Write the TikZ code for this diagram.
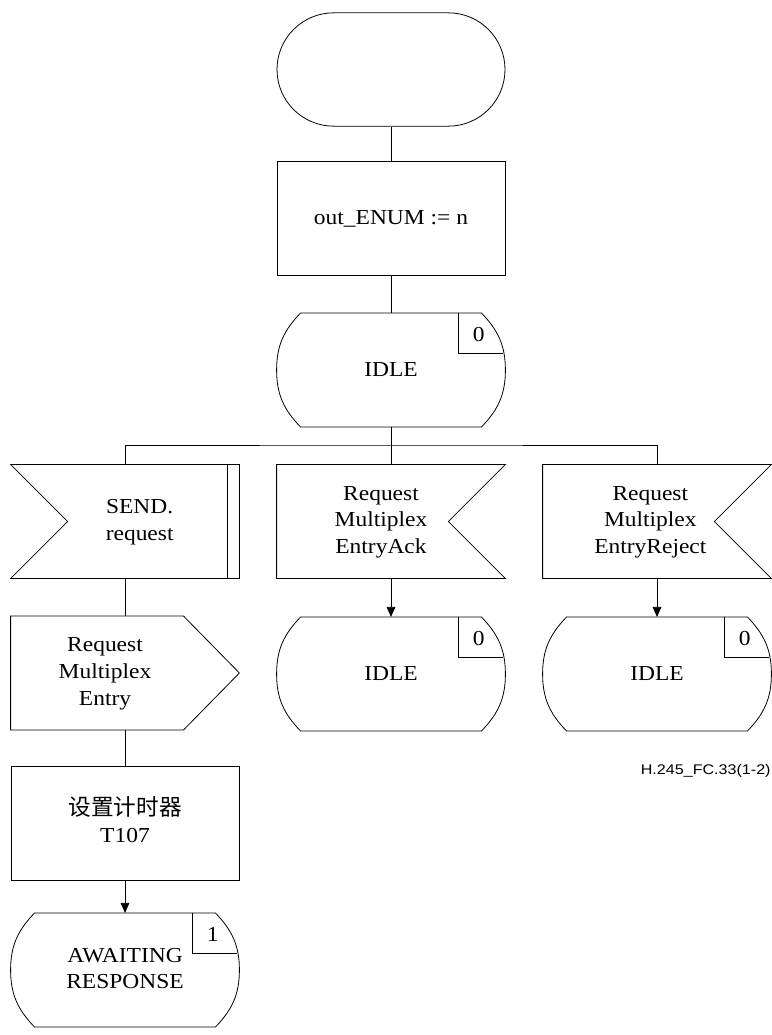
\documentclass[tikz,border=0pt]{standalone}
\usepackage{fontspec}
\setmainfont{Liberation Serif}[FakeStretch=1.1]
\newfontfamily\cjk{Noto Sans CJK SC}
\newfontfamily\figfont{Liberation Sans}[FakeStretch=1.15]
\usetikzlibrary{arrows.meta,calc}
\newcommand{\symtext}[2]{\kern#1\begin{tabular}{@{}c@{}}#2\end{tabular}}

\begin{document}
\begin{tikzpicture}[x=0.75pt,y=0.75pt,line width=0.6pt,
		sym/.style={minimum width=171pt,minimum height=85pt,inner sep=0pt,font=\fontsize{16}{20}\selectfont},
		startbox/.style={sym,draw,rounded corners=42.5pt},
		taskbox/.style={sym,draw},
		num/.style={font=\fontsize{16}{20}\selectfont,inner sep=0pt},
		arr/.style={-{Triangle[length=7.5pt,width=6.5pt]}}]
	\useasboundingbox (0,0) rectangle (771,-1035);
	\node[startbox] (start) at (391,-69.5) {};
	\node[taskbox] (task) at (391,-218.5) {out\_ENUM := n};
	\node[sym] (idle) at (391,-370) {IDLE};
	\coordinate (fork) at (391,-445);
	\node[sym] (send) at (125,-521.5) {\symtext{22pt}{SEND.\\request}};
	\node[sym] (ack) at (391,-521.5) {\symtext{-15pt}{Request\\Multiplex\\EntryAck}};
	\node[sym] (rej) at (657,-521.5) {\symtext{-10pt}{Request\\Multiplex\\EntryReject}};
	\node[sym] (out) at (125,-673) {\symtext{-30pt}{Request\\Multiplex\\Entry}};
	\node[sym] (idleA) at (391,-674) {IDLE};
	\node[sym] (idleB) at (657,-674) {IDLE};
	\node[taskbox] (timer) at (125,-823.5) {\symtext{0pt}{{\cjk\fontsize{17}{20}\selectfont 设置计时器}\\T107}};
	\node[sym] (wait) at (125,-970) {\symtext{0pt}{AWAITING\\RESPONSE}};
	\node[font=\figfont\fontsize{10.5}{12}\selectfont,anchor=east,inner sep=0pt] (figid) at (771,-771) {H.245\_FC.33(1-2)};
	% state symbols
	\foreach \n in {idle,idleA,idleB,wait}
		\draw ($(\n.north west)+(18pt,0)$) -- ($(\n.north east)+(-18pt,0)$) to[out=-46,in=90] (\n.east)
			to[out=-90,in=46] ($(\n.south east)+(-18pt,0)$) -- ($(\n.south west)+(18pt,0)$)
			to[out=134,in=-90] (\n.west) to[out=90,in=-134] ($(\n.north west)+(18pt,0)$) -- cycle;
	\foreach \n/\d in {idle/0,idleA/0,idleB/0,wait/1} {
		\draw ($(\n.north east)+(-35pt,0)$) |- ($(\n.north east)+(-1.5pt,-30pt)$);
		\node[num] (\n-num) at ($(\n.north east)+(-20pt,-16pt)$) {\d};
	}
	% inputs and output
	\foreach \n in {ack,rej}
		\draw (\n.north west) -- (\n.north east) -- ($(\n.east)+(-42.75pt,0)$) -- (\n.south east) -- (\n.south west) -- cycle;
	\draw (send.north west) -- (send.north east) -- (send.south east) -- (send.south west) -- ($(send.west)+(42.75pt,0)$) -- cycle;
	\draw ($(send.north east)+(-9pt,0)$) -- ($(send.south east)+(-9pt,0)$);
	\draw (out.north west) -- ($(out.north east)+(-42pt,0)$) -- (out.east) -- ($(out.south east)+(-42pt,0)$) -- (out.south west) -- cycle;
	% connectors
	\draw (start) -- (task);
	\draw (task) -- (idle);
	\draw (idle) -- (fork);
	\draw (send.north) |- (fork) -| (rej.north);
	\draw (fork) -- (ack.north);
	\draw (send) -- (out);
	\draw (out) -- (timer);
	\draw[arr] (timer) -- (wait);
	\draw[arr] (ack) -- (idleA);
	\draw[arr] (rej) -- (idleB);
\end{tikzpicture}
\end{document}
